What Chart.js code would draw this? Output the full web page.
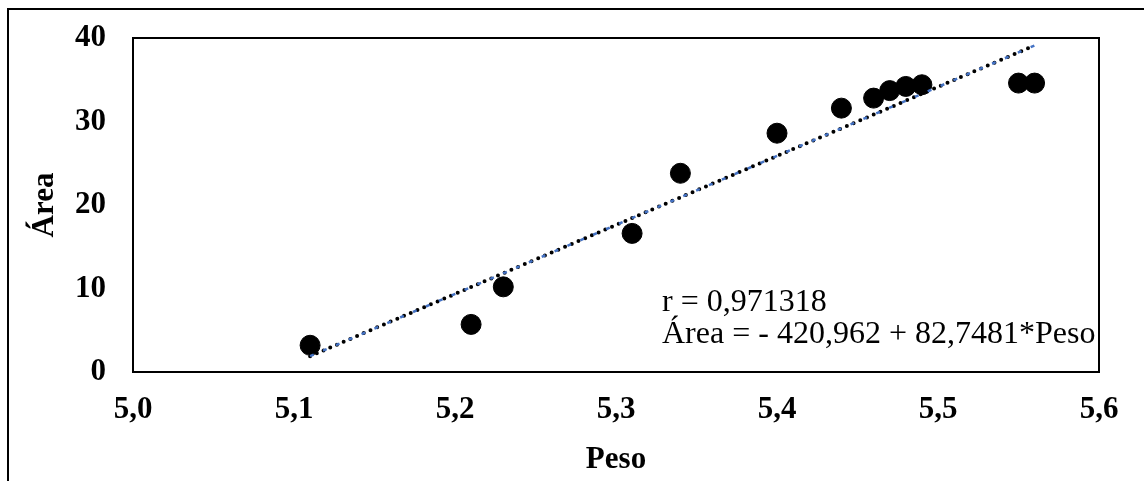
<!DOCTYPE html>
<html>
<head>
<meta charset="utf-8">
<script src="https://cdn.jsdelivr.net/npm/chart.js@4/dist/chart.umd.min.js"></script>
<style>
  html, body { margin: 0; padding: 0; background: #fff; overflow: hidden; }
  #wrap { position: relative; width: 1144px; height: 481px; }
  #frame { position: absolute; left: 7px; top: 8px; width: 2000px; height: 2000px;
           border-top: 2px solid #000; border-left: 2px solid #000; pointer-events: none; }
</style>
</head>
<body>
<div id="wrap">
  <canvas id="chart" width="1144" height="481"></canvas>
  <div id="frame"></div>
</div>
<script>
// valores
const peso = [5.11, 5.21, 5.23, 5.31, 5.34, 5.40, 5.44, 5.46, 5.47, 5.48, 5.49, 5.55, 5.56];
const area = [3.2, 5.7, 10.2, 16.6, 23.8, 28.6, 31.6, 32.8, 33.7, 34.2, 34.4, 34.6, 34.6];
// linha de tendência (extremos)
const trendPeso = [5.11, 5.56];
const trendArea = [1.9, 39.1];
const annotation = ['r = 0,971318', 'Área = - 420,962 + 82,7481*Peso'];

const serif = "'Liberation Serif', 'Times New Roman', serif";
const fmt = v => v.toFixed(1).replace('.', ',');

const trendData = trendPeso.map((x, i) => ({ x: x, y: trendArea[i] }));

const frameAndText = {
    id: 'frameAndText',
    afterDraw(chart) {
        const ctx = chart.ctx;
        const a = chart.chartArea;
        ctx.save();
        ctx.strokeStyle = '#000';
        ctx.lineWidth = 2;
        ctx.strokeRect(a.left, a.top, a.right - a.left, a.bottom - a.top);
        ctx.fillStyle = '#000';
        ctx.font = '32px ' + serif;
        ctx.textBaseline = 'alphabetic';
        ctx.textAlign = 'left';
        ctx.fillText(annotation[0], 662, 311);
        ctx.fillText(annotation[1], 662, 343);
        ctx.restore();
    }
};

new Chart(document.getElementById('chart'), {
    type: 'scatter',
    data: {
        datasets: [
            {
                type: 'line',
                data: trendData,
                borderColor: '#4472c4',
                borderWidth: 2.5,
                borderDash: [4, 10],
                pointRadius: 0,
                fill: false
            },
            {
                type: 'line',
                data: trendData,
                borderColor: '#000',
                borderWidth: 4,
                borderDash: [0, 7.3],
                borderCapStyle: 'round',
                pointRadius: 0,
                fill: false
            },
            {
                data: peso.map((x, i) => ({ x: x, y: area[i] })),
                backgroundColor: '#000',
                borderColor: '#000',
                pointRadius: 10,
                pointHoverRadius: 10
            }
        ]
    },
    options: {
        responsive: false,
        animation: false,
        layout: { padding: { top: 38, right: 45, left: 0, bottom: 0 } },
        plugins: { legend: { display: false }, tooltip: { enabled: false } },
        scales: {
            x: {
                type: 'linear',
                min: 5.0,
                max: 5.6,
                afterFit: s => { s.height = 109; },
                grid: { display: false, drawTicks: false },
                border: { display: true, color: '#000', width: 2 },
                ticks: {
                    stepSize: 0.1,
                    padding: 19,
                    color: '#000',
                    font: { family: serif, size: 31, weight: 'bold' },
                    callback: v => fmt(v)
                },
                title: {
                    display: true,
                    text: 'Peso',
                    color: '#000',
                    padding: { top: 0, bottom: 2 },
                    font: { family: serif, size: 31, weight: 'bold' }
                }
            },
            y: {
                min: 0,
                max: 40,
                afterFit: s => { s.width = 133; },
                grid: { display: false, drawTicks: true, tickLength: 8 },
                border: { display: true, color: '#000', width: 2 },
                ticks: {
                    stepSize: 10,
                    padding: 19,
                    color: '#000',
                    font: { family: serif, size: 31, weight: 'bold' }
                },
                title: {
                    display: true,
                    text: 'Área',
                    color: '#000',
                    padding: { top: 26, bottom: 0 },
                    font: { family: serif, size: 31, weight: 'bold' }
                }
            }
        }
    },
    plugins: [frameAndText]
});
</script>
</body>
</html>
